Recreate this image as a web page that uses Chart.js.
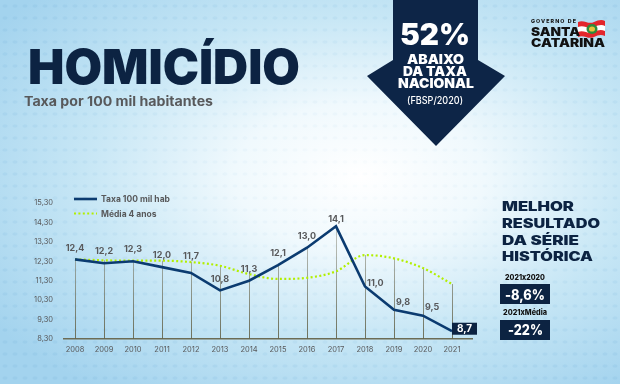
<!DOCTYPE html>
<html><head><meta charset="utf-8">
<script src="https://cdn.jsdelivr.net/npm/chart.js@4/dist/chart.umd.min.js"></script>
<style>
html,body{margin:0;padding:0;width:620px;height:384px;overflow:hidden}
body{position:relative;font-family:Inter,"Noto Sans",sans-serif;
background:radial-gradient(ellipse 72% 68% at 58% 46%,#ffffff 0%,#f0f9fd 28%,#c6e6f5 62%,#a3d3ee 100%)}
#dots{position:absolute;left:0;top:0;width:620px;height:384px;opacity:.35;
background-image:radial-gradient(ellipse 3px 2px at 5px 6px,rgba(120,180,220,.55) 0,rgba(120,180,220,.55) 60%,transparent 100%);
background-size:10px 12px;
-webkit-mask-image:radial-gradient(ellipse 70% 65% at 58% 46%,rgba(0,0,0,.15) 0%,rgba(0,0,0,.4) 45%,#000 100%);
mask-image:radial-gradient(ellipse 70% 65% at 58% 46%,rgba(0,0,0,.15) 0%,rgba(0,0,0,.4) 45%,#000 100%)}
.t{position:absolute;white-space:nowrap;line-height:1;display:inline-block;transform-origin:0 0;font-feature-settings:"calt" 0}
#title{left:28px;font-size:48px;font-weight:900;color:#0c2342}
#sub{left:24px;font-size:13px;font-weight:700;color:#58595b}
.arrowTxt{color:#fff;font-weight:900}
.panel{color:#0c2342;font-weight:900;font-size:12.5px;left:502px}
.small{color:#111;font-weight:800;font-size:7.5px}
.box{position:absolute;background:#0c2342;left:500px;width:50px}
.boxTxt{color:#fff;font-weight:800;font-size:14px}
.logo{color:#111;font-weight:900}
canvas{position:absolute;left:0;top:0}
</style></head><body>
<div id="dots"></div>
<svg style="position:absolute;left:0;top:0" width="620" height="384">
  <polygon points="393,0 478,0 478,60 505,76 436,146 367,76 393,60" fill="#0d2547"/>
  <g transform="translate(578,19)">
    <path d="M0,3 C6,0 10,6 16,3 C20,1 24,0 27,2 L27,17 C23,15 20,16 16,18 C10,21 6,15 0,18 Z" fill="#e3262b"/>
    <path d="M0,8 C6,5 10,11 16,8 C20,6 24,5 27,7 L27,12 C23,10 20,11 16,13 C10,16 6,10 0,13 Z" fill="#ffffff"/>
    <ellipse cx="14" cy="10" rx="5.5" ry="5" fill="#2e8b3a"/>
    <ellipse cx="14" cy="10" rx="3" ry="2.6" fill="#e7c43a"/>
  </g>
</svg>
<div class="box" style="top:284px;height:19.5px"></div>
<div class="box" style="top:319.5px;height:20.5px"></div>

<span class="t fit" id="title" data-w="272" data-cap="50">HOMICÍDIO</span>
<span class="t fit" id="sub" data-w="189" data-cap="96.7">Taxa por 100 mil habitantes</span>

<span class="t fit arrowTxt" style="left:400px;font-size:30px" data-w="70" data-cap="23">52%</span>
<span class="t fit arrowTxt" style="left:406.7px;font-size:13px" data-w="57" data-cap="55">ABAIXO</span>
<span class="t fit arrowTxt" style="left:403px;font-size:13px" data-w="64" data-cap="67">DA TAXA</span>
<span class="t fit arrowTxt" style="left:397.7px;font-size:13px" data-w="76" data-cap="79">NACIONAL</span>
<span class="t fit" style="left:406.7px;font-size:10px;color:#fff;font-weight:500" data-w="56" data-cap="96">(FBSP/2020)</span>

<span class="t fit logo" style="left:531px;font-size:5px;font-weight:800;letter-spacing:1px" data-w="46" data-cap="20">GOVERNO DE</span>
<span class="t fit logo" style="left:531px;font-size:12px" data-w="49" data-cap="28">SANTA</span>
<span class="t fit logo" style="left:531px;font-size:11.5px" data-w="74" data-cap="40">CATARINA</span>

<span class="t fit panel" data-w="72" data-cap="203">MELHOR</span>
<span class="t fit panel" data-w="98" data-cap="220">RESULTADO</span>
<span class="t fit panel" data-w="77" data-cap="237">DA SÉRIE</span>
<span class="t fit panel" data-w="91" data-cap="253">HISTÓRICA</span>
<span class="t fit small" style="left:505px" data-w="40" data-cap="275.5">2021x2020</span>
<span class="t fit boxTxt" style="left:505px" data-w="40" data-cap="289.5">-8,6%</span>
<span class="t fit small" style="left:503px" data-w="44" data-cap="310.5">2021xMédia</span>
<span class="t fit boxTxt" style="left:508px" data-w="35" data-cap="325">-22%</span>

<canvas id="c" width="620" height="384"></canvas>
<script>
// ---- data ----
const years = [2008,2009,2010,2011,2012,2013,2014,2015,2016,2017,2018,2019,2020,2021];
const taxa = [12.4,12.2,12.3,12.0,11.7,10.8,11.3,12.1,13.0,14.1,11.0,9.8,9.5,8.7];
const media4anos = [12.4,12.35,12.33,12.33,12.26,12.07,11.64,11.39,11.45,11.78,12.62,12.45,11.95,11.13];
const yTicks = [8.3,9.3,10.3,11.3,12.3,13.3,14.3,15.3];
const seriesNames = ['Taxa 100 mil hab','Média 4 anos'];
const labelPlacement = ['top','top','top','top','high','top','top','top','top','low','rightLow','right','right','box'];

// ---- text fitting ----
document.querySelectorAll('.fit').forEach(el=>{
  const fs=parseFloat(getComputedStyle(el).fontSize);
  el.style.top=(parseFloat(el.dataset.cap)-0.136*fs)+'px';
  const w=el.getBoundingClientRect().width;
  const tw=parseFloat(el.dataset.w);
  if(w>0) el.style.transform='scaleX('+(tw/w)+')';
});

const fmt = v => v.toFixed(1).replace('.',',');

const dropLines = {
  id:'dropLines',
  beforeDatasetsDraw(chart){
    const ctx=chart.ctx, a=chart.chartArea;
    const m0=chart.getDatasetMeta(0).data, m1=chart.getDatasetMeta(1).data;
    const g=ctx.createLinearGradient(0,a.top,0,a.bottom);
    g.addColorStop(0,'rgba(140,140,125,0.35)');
    g.addColorStop(1,'rgba(100,100,75,0.9)');
    ctx.save();ctx.strokeStyle=g;ctx.lineWidth=1;
    m0.forEach((p,i)=>{
      const top=Math.min(p.y,m1[i].y);
      const x=Math.round(p.x)+0.5;
      ctx.beginPath();ctx.moveTo(x,top);ctx.lineTo(x,a.bottom);ctx.stroke();
    });
    ctx.restore();
  }
};

const valueLabels = {
  id:'valueLabels',
  afterDatasetsDraw(chart){
    const ctx=chart.ctx;
    const pts=chart.getDatasetMeta(0).data;
    ctx.save();
    ctx.font='bold 9px Inter, sans-serif';
    ctx.textBaseline='middle';
    pts.forEach((p,i)=>{
      const txt=fmt(taxa[i]);
      const mode=labelPlacement[i];
      if(mode==='box'){
        ctx.fillStyle='#0c2342';
        ctx.fillRect(p.x,p.y-8.5,25,12);
        ctx.fillStyle='#fff';ctx.font='bold 10px Inter, sans-serif';
        ctx.textAlign='center';ctx.fillText(txt,p.x+12.5,p.y-2.3);
        ctx.font='bold 9px Inter, sans-serif';
        return;
      }
      ctx.fillStyle='#58595b';
      if(mode==='right'||mode==='rightLow'){
        ctx.textAlign='left';
        ctx.fillText(txt,p.x+2,p.y-(mode==='right'?8:3.5));
      } else {
        ctx.textAlign='center';
        const dy = mode==='high'?16.5:(mode==='low'?7.5:11.5);
        ctx.fillText(txt,p.x,p.y-dy);
      }
    });
    ctx.restore();
  }
};

const legendDraw = {
  id:'legendDraw',
  afterDraw(chart){
    const ctx=chart.ctx;
    ctx.save();
    chart.data.datasets.forEach((ds,i)=>{
      const y=199+i*14.5;
      ctx.strokeStyle=ds.borderColor;ctx.lineWidth=ds.borderWidth;
      ctx.setLineDash(ds.borderDash||[]);
      ctx.beginPath();ctx.moveTo(74,y);ctx.lineTo(97,y);ctx.stroke();
      ctx.setLineDash([]);
      ctx.fillStyle='#58595b';ctx.font='bold 8.5px Inter, sans-serif';
      ctx.textBaseline='middle';ctx.textAlign='left';
      ctx.fillText(ds.label,101,y+0.5);
    });
    ctx.restore();
  }
};

new Chart(document.getElementById('c'),{
  type:'line',
  data:{
    datasets:[
      {label:seriesNames[0],data:years.map((y,i)=>({x:y,y:taxa[i]})),borderColor:'#0b3b70',borderWidth:2.6,pointRadius:0,tension:0,order:1},
      {label:seriesNames[1],data:years.map((y,i)=>({x:y,y:media4anos[i]})),borderColor:'#b2ef00',borderWidth:2.2,borderDash:[2,2.4],pointRadius:0,cubicInterpolationMode:'monotone',order:2}
    ]
  },
  options:{
    responsive:false,animation:false,devicePixelRatio:1,
    layout:{padding:{top:203,right:148,left:0,bottom:0}},
    plugins:{legend:{display:false},tooltip:{enabled:false}},
    scales:{
      x:{type:'linear',min:2007.62,max:2021.69,
        grid:{display:false,drawTicks:false},
        border:{display:true,color:'#6c6c55',width:1.5},
        afterBuildTicks:s=>{s.ticks=years.map(v=>({value:v}));},
        afterFit:s=>{s.height=45;},
        ticks:{autoSkip:false,maxRotation:0,padding:6,color:'#58595b',font:{family:'Inter',size:7.5},callback:v=>String(v)}},
      y:{type:'linear',min:8.3,max:15.3,
        grid:{display:false,drawTicks:false},
        border:{display:false},
        afterBuildTicks:s=>{s.ticks=yTicks.map(v=>({value:v}));},
        afterFit:s=>{s.width=64;},
        ticks:{padding:11,color:'#58595b',font:{family:'Inter',size:7.5},callback:v=>v.toFixed(2).replace('.',',')}}
    }
  },
  plugins:[dropLines,valueLabels,legendDraw]
});
</script>
</body></html>
